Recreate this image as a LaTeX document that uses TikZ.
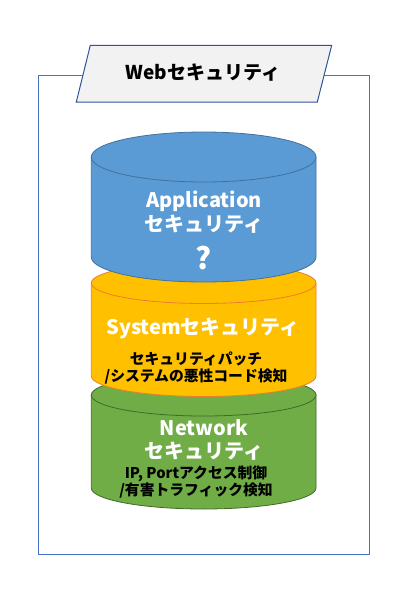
\documentclass[tikz,border=0pt]{standalone}
\usepackage{fontspec}
\setmainfont{Noto Sans CJK JP}
\definecolor{frameblue}{HTML}{4472C4}
\definecolor{titleline}{HTML}{2F5597}
\definecolor{titlefill}{HTML}{F2F2F2}
\definecolor{appfill}{HTML}{5B9BD5}
\definecolor{appline}{HTML}{41719C}
\definecolor{sysfill}{HTML}{FFC000}
\definecolor{sysline}{HTML}{ED7D31}
\definecolor{netfill}{HTML}{70AD47}
\definecolor{netline}{HTML}{3F6B25}

\begin{document}
\begin{tikzpicture}[
      x = 1pt, y = -1pt,
      every node/.style = {
        align = center, inner sep = 0pt, font = \bfseries},
      bigtext/.style = {white, font = \bfseries\fontsize{20}{23.5}\selectfont},
      smalltext/.style = {black, font = \bfseries\fontsize{14.8}{17}\selectfont},
      layer/.style = {line width = .8pt}
      ]
    \useasboundingbox (0,0) rectangle (415,598);
    \draw[frameblue, line width = 1pt] (38.5,75.5) rectangle (369.5,554);
    \filldraw[titleline, fill = titlefill, line width = 1pt]
      (90.3,45.3) -- (331.7,45.3) -- (317.3,102) -- (76.3,102) -- cycle;
    \node[font = \bfseries\fontsize{19}{22}\selectfont] (title) at (203,73) {Webセキュリティ};
    % network layer
    \filldraw[layer, netline, fill = netfill]
      (91.3,395) -- (91.3,488) arc[start angle = 180, end angle = 0,
      x radius = 112.35, y radius = 21] -- (316,395) -- cycle;
    \filldraw[layer, netline, fill = netfill]
      (203.65,395) ellipse [x radius = 112.35, y radius = 21];
    % system layer
    \filldraw[layer, sysline, fill = sysfill]
      (91.3,283) -- (91.3,376) arc[start angle = 180, end angle = 0,
      x radius = 112.35, y radius = 20.5] -- (316,283) -- cycle;
    \filldraw[layer, sysline, fill = sysfill]
      (203.65,283) ellipse [x radius = 112.35, y radius = 20.5];
    % application layer
    \filldraw[layer, appline, fill = appfill]
      (91.3,157) -- (91.3,257) arc[start angle = 180, end angle = 0,
      x radius = 112.35, y radius = 25] -- (316,157) -- cycle;
    \filldraw[layer, appline, fill = appfill]
      (203.65,157) ellipse [x radius = 112.35, y radius = 25];
    % texts
    \node[bigtext] (app) at (204,212) {Application\\セキュリティ};
    \node[white, font = \bfseries\fontsize{30}{30}\selectfont] (q) at (204,258) {?};
    \node[bigtext] (sys) at (203,328) {Systemセキュリティ};
    \node[smalltext] (sysnote) at (196,368) {セキュリティパッチ\\/システムの悪性コード検知};
    \node[bigtext] (net) at (204,440) {Network\\セキュリティ};
    \node[smalltext] (netnote) at (196,482) {IP, Portアクセス制御\\/有害トラフィック検知};
  \end{tikzpicture}
\end{document}
